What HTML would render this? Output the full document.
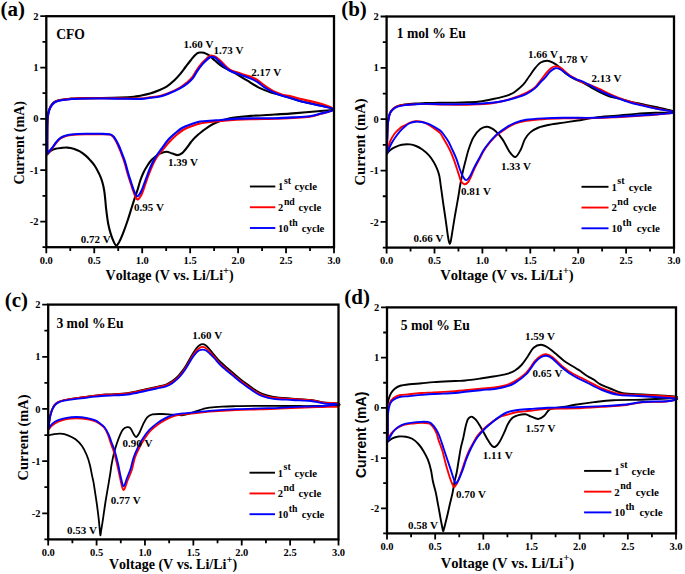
<!DOCTYPE html>
<html><head><meta charset="utf-8"><style>
html,body{margin:0;padding:0;background:#fff;}
svg{display:block;} text{font-kerning:none;}
</style></head><body>
<svg width="685" height="574" viewBox="0 0 685 574">
<rect width="685" height="574" fill="#fff"/>
<path d="M47.2 154.5 C47.78 153.92 49.32 151.95 50.7 151 C52.08 150.05 53.65 149.32 55.5 148.8 C57.35 148.28 59.83 148.1 61.8 147.9 C63.77 147.7 65.33 147.47 67.3 147.6 C69.27 147.73 71.5 148.07 73.6 148.7 C75.7 149.33 77.93 150.28 79.9 151.4 C81.87 152.52 83.7 153.95 85.4 155.4 C87.1 156.85 88.52 158.33 90.1 160.1 C91.68 161.87 93.45 163.83 94.9 166 C96.35 168.17 97.73 170.97 98.8 173.1 C99.87 175.23 100.58 176.83 101.3 178.8 C102.02 180.77 102.58 182.73 103.1 184.9 C103.62 187.07 104.03 189.28 104.4 191.8 C104.77 194.32 105 197.07 105.3 200 C105.6 202.93 105.72 205.43 106.2 209.4 C106.68 213.37 107.47 219.8 108.2 223.8 C108.93 227.8 109.73 230.53 110.6 233.4 C111.47 236.27 112.45 238.98 113.4 241 C114.35 243.02 115.33 245.33 116.3 245.5 C117.27 245.67 118.08 244.02 119.2 242 C120.32 239.98 121.57 237.07 123 233.4 C124.43 229.73 126.35 224.32 127.8 220 C129.25 215.68 130.58 211.03 131.7 207.5 C132.82 203.97 133.53 201.72 134.5 198.8 C135.47 195.88 136.53 193.05 137.5 190 C138.47 186.95 139.3 183.42 140.3 180.5 C141.3 177.58 142.33 174.97 143.5 172.5 C144.67 170.03 145.97 167.78 147.3 165.7 C148.63 163.62 150.05 161.6 151.5 160 C152.95 158.4 154.58 157.18 156 156.1 C157.42 155.02 158.27 154.22 160 153.5 C161.73 152.78 164.32 151.78 166.4 151.8 C168.48 151.82 170.6 153.05 172.5 153.6 C174.4 154.15 176.2 155.18 177.8 155.1 C179.4 155.02 180.5 154.45 182.1 153.1 C183.7 151.75 185.92 148.85 187.4 147 C188.88 145.15 189.73 143.58 191 142 C192.27 140.42 193.17 139.25 195 137.5 C196.83 135.75 198.98 133.75 202 131.5 C205.02 129.25 208.47 126.22 213.1 124 C217.73 121.78 223.53 119.55 229.8 118.2 C236.07 116.85 243.17 116.52 250.7 115.9 C258.23 115.28 267.97 114.92 275 114.5 C282.03 114.08 285.28 113.98 292.9 113.4 C300.52 112.82 313.85 111.65 320.7 111 C327.55 110.35 334 110.42 334 109.5 C334 108.58 326.4 106.93 320.7 105.5 C315 104.07 306.05 102.52 299.8 100.9 C293.55 99.28 288 97.22 283.2 95.8 C278.4 94.38 275.07 93.77 271 92.4 C266.93 91.03 262.87 89.63 258.8 87.6 C254.73 85.57 250.67 82.65 246.6 80.2 C242.53 77.75 237.9 74.88 234.4 72.9 C230.9 70.92 228 69.65 225.6 68.3 C223.2 66.95 221.78 66.1 220 64.8 C218.22 63.5 216.77 62.1 214.9 60.5 C213.03 58.9 210.65 56.48 208.8 55.2 C206.95 53.92 205.18 53.25 203.8 52.8 C202.42 52.35 201.57 52.45 200.5 52.5 C199.43 52.55 198.52 52.43 197.4 53.1 C196.28 53.77 194.95 55.27 193.8 56.5 C192.65 57.73 191.88 58.75 190.5 60.5 C189.12 62.25 187.2 64.78 185.5 67 C183.8 69.22 182.15 71.58 180.3 73.8 C178.45 76.02 176.62 78.22 174.4 80.3 C172.18 82.38 169.57 84.63 167 86.3 C164.43 87.97 161.83 89.08 159 90.3 C156.17 91.52 153.17 92.68 150 93.6 C146.83 94.52 142.68 95.27 140 95.8 C137.32 96.33 137.23 96.5 133.9 96.8 C130.57 97.1 125.65 97.4 120 97.6 C114.35 97.8 106.83 97.9 100 98 C93.17 98.1 83.95 98.08 79 98.2 C74.05 98.32 73.22 98.43 70.3 98.7 C67.38 98.97 63.98 99.33 61.5 99.8 C59.02 100.27 57 100.72 55.4 101.5 C53.8 102.28 52.92 103.17 51.9 104.5 C50.88 105.83 49.98 107.33 49.3 109.5 C48.62 111.67 48.13 114.08 47.8 117.5 C47.47 120.92 47.4 123.83 47.3 130 C47.2 136.17 47.22 150.42 47.2 154.5" stroke="#000" stroke-width="2.1" fill="none" stroke-linejoin="round" stroke-linecap="round"/>
<path d="M47.2 153.8 C47.98 152.93 50.4 150.43 51.9 148.6 C53.4 146.77 54.77 144.48 56.2 142.8 C57.63 141.12 58.98 139.6 60.5 138.5 C62.02 137.4 63.48 136.78 65.3 136.2 C67.12 135.62 69.37 135.28 71.4 135 C73.43 134.72 75.1 134.63 77.5 134.5 C79.9 134.37 82.05 134.25 85.8 134.2 C89.55 134.15 96.05 134.15 100 134.2 C103.95 134.25 107.3 134.07 109.5 134.5 C111.7 134.93 112.1 135.67 113.2 136.8 C114.3 137.93 115.22 139.68 116.1 141.3 C116.98 142.92 117.75 144.8 118.5 146.5 C119.25 148.2 119.62 148.92 120.6 151.5 C121.58 154.08 123.2 158.22 124.4 162 C125.6 165.78 126.73 170.62 127.8 174.2 C128.87 177.78 129.87 180.62 130.8 183.5 C131.73 186.38 132.6 189.25 133.4 191.5 C134.2 193.75 134.9 195.65 135.6 197 C136.3 198.35 136.95 199.43 137.6 199.6 C138.25 199.77 138.73 199.1 139.5 198 C140.27 196.9 141.25 195.25 142.2 193 C143.15 190.75 144.23 187.25 145.2 184.5 C146.17 181.75 147.02 179.17 148 176.5 C148.98 173.83 149.97 171.15 151.1 168.5 C152.23 165.85 153.55 162.9 154.8 160.6 C156.05 158.3 157.32 156.47 158.6 154.7 C159.88 152.93 160.77 152.07 162.5 150 C164.23 147.93 166.63 144.83 169 142.3 C171.37 139.77 174.37 136.85 176.7 134.8 C179.03 132.75 180.67 131.38 183 130 C185.33 128.62 187.87 127.58 190.7 126.5 C193.53 125.42 195.8 124.33 200 123.5 C204.2 122.67 209.77 122.12 215.9 121.5 C222.03 120.88 230.28 120.18 236.8 119.8 C243.32 119.42 248.63 119.37 255 119.2 C261.37 119.03 268.68 119 275 118.8 C281.32 118.6 287.13 118.33 292.9 118 C298.67 117.67 304.97 117.5 309.6 116.8 C314.23 116.1 316.63 115.02 320.7 113.8 C324.77 112.58 334 111.18 334 109.5 C334 107.82 326.4 105.48 320.7 103.7 C315 101.92 304.92 100.07 299.8 98.8 C294.68 97.53 292.77 96.75 290 96.1 C287.23 95.45 285.77 95.62 283.2 94.9 C280.63 94.18 277.65 93.33 274.6 91.8 C271.55 90.27 267.73 87.63 264.9 85.7 C262.07 83.77 260.05 81.72 257.6 80.2 C255.15 78.68 253.05 77.72 250.2 76.6 C247.35 75.48 243.95 74.72 240.5 73.5 C237.05 72.28 232.55 71.13 229.5 69.3 C226.45 67.47 224.45 64.52 222.2 62.5 C219.95 60.48 217.67 58.33 216 57.2 C214.33 56.07 213.28 55.87 212.2 55.7 C211.12 55.53 210.5 55.65 209.5 56.2 C208.5 56.75 207.47 57.82 206.2 59 C204.93 60.18 203.5 61.42 201.9 63.3 C200.3 65.18 198.2 67.98 196.6 70.3 C195 72.62 193.9 75.17 192.3 77.2 C190.7 79.23 189.05 80.77 187 82.5 C184.95 84.23 183.12 85.8 180 87.6 C176.88 89.4 171.63 91.9 168.3 93.3 C164.97 94.7 163.05 95.32 160 96 C156.95 96.68 153.18 96.98 150 97.4 C146.82 97.82 145.9 98.33 140.9 98.5 C135.9 98.67 126.15 98.45 120 98.4 C113.85 98.35 110.83 98.2 104 98.2 C97.17 98.2 84.62 98.28 79 98.4 C73.38 98.52 73.22 98.63 70.3 98.9 C67.38 99.17 63.98 99.55 61.5 100 C59.02 100.45 57 100.83 55.4 101.6 C53.8 102.37 52.92 103.3 51.9 104.6 C50.88 105.9 50.03 107.28 49.3 109.4 C48.57 111.52 47.85 113.87 47.5 117.3 C47.15 120.73 47.25 123.92 47.2 130 C47.15 136.08 47.2 149.83 47.2 153.8" stroke="#f00" stroke-width="2.1" fill="none" stroke-linejoin="round" stroke-linecap="round"/>
<path d="M47.2 153.5 C47.98 152.62 50.4 150.1 51.9 148.2 C53.4 146.3 54.77 143.83 56.2 142.1 C57.63 140.37 58.98 138.87 60.5 137.8 C62.02 136.73 63.48 136.25 65.3 135.7 C67.12 135.15 69.37 134.78 71.4 134.5 C73.43 134.22 75.1 134.12 77.5 134 C79.9 133.88 82.05 133.83 85.8 133.8 C89.55 133.77 96.05 133.73 100 133.8 C103.95 133.87 107.25 133.75 109.5 134.2 C111.75 134.65 112.33 135.37 113.5 136.5 C114.67 137.63 115.58 139.42 116.5 141 C117.42 142.58 118.25 144.33 119 146 C119.75 147.67 120.02 148.45 121 151 C121.98 153.55 123.68 157.55 124.9 161.3 C126.12 165.05 127.28 170.05 128.3 173.5 C129.32 176.95 130.13 179.33 131 182 C131.87 184.67 132.75 187.47 133.5 189.5 C134.25 191.53 134.87 193.07 135.5 194.2 C136.13 195.33 136.67 196.25 137.3 196.3 C137.93 196.35 138.55 195.55 139.3 194.5 C140.05 193.45 140.88 192.08 141.8 190 C142.72 187.92 143.87 184.5 144.8 182 C145.73 179.5 146.45 177.5 147.4 175 C148.35 172.5 149.37 169.58 150.5 167 C151.63 164.42 152.95 161.75 154.2 159.5 C155.45 157.25 156.73 155.33 158 153.5 C159.27 151.67 160.13 150.75 161.8 148.5 C163.47 146.25 165.68 142.62 168 140 C170.32 137.38 173.37 134.8 175.7 132.8 C178.03 130.8 179.67 129.35 182 128 C184.33 126.65 186.7 125.78 189.7 124.7 C192.7 123.62 195.63 122.23 200 121.5 C204.37 120.77 209.77 120.78 215.9 120.3 C222.03 119.82 230.28 118.93 236.8 118.6 C243.32 118.27 248.63 118.37 255 118.3 C261.37 118.23 268.68 118.35 275 118.2 C281.32 118.05 287.13 117.73 292.9 117.4 C298.67 117.07 304.97 116.83 309.6 116.2 C314.23 115.57 316.63 114.72 320.7 113.6 C324.77 112.48 334 110.8 334 109.5 C334 108.2 326.4 107.23 320.7 105.8 C315 104.37 304.92 102.22 299.8 100.9 C294.68 99.58 292.77 98.7 290 97.9 C287.23 97.1 285.77 96.92 283.2 96.1 C280.63 95.28 277.65 94.42 274.6 93 C271.55 91.58 267.73 89.42 264.9 87.6 C262.07 85.78 260.05 83.63 257.6 82.1 C255.15 80.57 253.05 79.62 250.2 78.4 C247.35 77.18 243.95 76.12 240.5 74.8 C237.05 73.48 232.55 72.23 229.5 70.5 C226.45 68.77 224.45 66.43 222.2 64.4 C219.95 62.37 217.6 59.55 216 58.3 C214.4 57.05 213.52 57.12 212.6 56.9 C211.68 56.68 211.43 56.55 210.5 57 C209.57 57.45 208.3 58.45 207 59.6 C205.7 60.75 204.3 62.02 202.7 63.9 C201.1 65.78 199 68.57 197.4 70.9 C195.8 73.23 194.7 75.87 193.1 77.9 C191.5 79.93 189.98 81.37 187.8 83.1 C185.62 84.83 183.25 86.53 180 88.3 C176.75 90.07 171.63 92.33 168.3 93.7 C164.97 95.07 163.05 95.82 160 96.5 C156.95 97.18 153.18 97.4 150 97.8 C146.82 98.2 145.9 98.75 140.9 98.9 C135.9 99.05 126.15 98.77 120 98.7 C113.85 98.63 110.83 98.5 104 98.5 C97.17 98.5 84.62 98.58 79 98.7 C73.38 98.82 73.22 98.93 70.3 99.2 C67.38 99.47 63.98 99.83 61.5 100.3 C59.02 100.77 57 101.2 55.4 102 C53.8 102.8 52.92 103.78 51.9 105.1 C50.88 106.42 50.03 107.78 49.3 109.9 C48.57 112.02 47.85 114.45 47.5 117.8 C47.15 121.15 47.25 124.05 47.2 130 C47.15 135.95 47.2 149.58 47.2 153.5" stroke="#00f" stroke-width="2.1" fill="none" stroke-linejoin="round" stroke-linecap="round"/>
<rect x="46.3" y="16.2" width="287.7" height="231" fill="none" stroke="#000" stroke-width="2.3"/>
<path d="M46.3 247.2 V253.2 M70.27 247.2 V251 M94.25 247.2 V253.2 M118.22 247.2 V251 M142.2 247.2 V253.2 M166.18 247.2 V251 M190.15 247.2 V253.2 M214.12 247.2 V251 M238.1 247.2 V253.2 M262.07 247.2 V251 M286.05 247.2 V253.2 M310.02 247.2 V251 M334 247.2 V253.2 M46.3 247.2 H42.5 M46.3 221.53 H40.3 M46.3 195.87 H42.5 M46.3 170.2 H40.3 M46.3 144.53 H42.5 M46.3 118.87 H40.3 M46.3 93.2 H42.5 M46.3 67.53 H40.3 M46.3 41.87 H42.5 M46.3 16.2 H40.3" stroke="#000" stroke-width="1.8" fill="none"/>
<text x="46.3" y="263.8" font-size="10.5" text-anchor="middle" font-family='"Liberation Serif", serif' font-weight="bold" >0.0</text>
<text x="94.25" y="263.8" font-size="10.5" text-anchor="middle" font-family='"Liberation Serif", serif' font-weight="bold" >0.5</text>
<text x="142.2" y="263.8" font-size="10.5" text-anchor="middle" font-family='"Liberation Serif", serif' font-weight="bold" >1.0</text>
<text x="190.15" y="263.8" font-size="10.5" text-anchor="middle" font-family='"Liberation Serif", serif' font-weight="bold" >1.5</text>
<text x="238.1" y="263.8" font-size="10.5" text-anchor="middle" font-family='"Liberation Serif", serif' font-weight="bold" >2.0</text>
<text x="286.05" y="263.8" font-size="10.5" text-anchor="middle" font-family='"Liberation Serif", serif' font-weight="bold" >2.5</text>
<text x="334" y="263.8" font-size="10.5" text-anchor="middle" font-family='"Liberation Serif", serif' font-weight="bold" >3.0</text>
<text x="38.5" y="19.8" font-size="10.5" text-anchor="end" font-family='"Liberation Serif", serif' font-weight="bold" >2</text>
<text x="38.5" y="71.13" font-size="10.5" text-anchor="end" font-family='"Liberation Serif", serif' font-weight="bold" >1</text>
<text x="38.5" y="122.47" font-size="10.5" text-anchor="end" font-family='"Liberation Serif", serif' font-weight="bold" >0</text>
<text x="38.5" y="173.8" font-size="10.5" text-anchor="end" font-family='"Liberation Serif", serif' font-weight="bold" >-1</text>
<text x="38.5" y="225.13" font-size="10.5" text-anchor="end" font-family='"Liberation Serif", serif' font-weight="bold" >-2</text>
<text x="0" y="0" font-size="20" text-anchor="start" font-family='"Liberation Serif", serif' font-weight="bold" transform="translate(0.5 15.8) scale(1.05 1)">(a)</text>
<text x="56.2" y="39" font-size="13.6" text-anchor="start" font-family='"Liberation Serif", serif' font-weight="bold" >CFO</text>
<text x="183.6" y="47.6" font-size="11" text-anchor="start" font-family='"Liberation Serif", serif' font-weight="bold" >1.60 V</text>
<text x="213.6" y="53.7" font-size="11" text-anchor="start" font-family='"Liberation Serif", serif' font-weight="bold" >1.73 V</text>
<text x="251.3" y="75.6" font-size="11" text-anchor="start" font-family='"Liberation Serif", serif' font-weight="bold" >2.17 V</text>
<text x="167.9" y="166.3" font-size="11" text-anchor="start" font-family='"Liberation Serif", serif' font-weight="bold" >1.39 V</text>
<text x="134" y="211" font-size="11" text-anchor="start" font-family='"Liberation Serif", serif' font-weight="bold" >0.95 V</text>
<text x="80.7" y="243.4" font-size="11" text-anchor="start" font-family='"Liberation Serif", serif' font-weight="bold" >0.72 V</text>
<line x1="249.9" y1="186.5" x2="275.3" y2="186.5" stroke="#000" stroke-width="1.9"/>
<text x="278.1" y="190.4" font-size="10.5" text-anchor="start" font-family='"Liberation Serif", serif' font-weight="bold" >1</text>
<text x="283.9" y="184" font-size="9.8" text-anchor="start" font-family='"Liberation Serif", serif' font-weight="bold" >st</text>
<text x="294.5" y="190.4" font-size="10.71" text-anchor="start" font-family='"Liberation Serif", serif' font-weight="bold" >cycle</text>
<line x1="249.9" y1="207.25" x2="275.3" y2="207.25" stroke="#f00" stroke-width="1.9"/>
<text x="278.1" y="211.15" font-size="10.5" text-anchor="start" font-family='"Liberation Serif", serif' font-weight="bold" >2</text>
<text x="283.9" y="204.75" font-size="9.8" text-anchor="start" font-family='"Liberation Serif", serif' font-weight="bold" >nd</text>
<text x="298.6" y="211.15" font-size="10.71" text-anchor="start" font-family='"Liberation Serif", serif' font-weight="bold" >cycle</text>
<line x1="249.9" y1="228" x2="275.3" y2="228" stroke="#00f" stroke-width="1.9"/>
<text x="278.1" y="231.9" font-size="10.5" text-anchor="start" font-family='"Liberation Serif", serif' font-weight="bold" >10</text>
<text x="289" y="225.5" font-size="9.8" text-anchor="start" font-family='"Liberation Serif", serif' font-weight="bold" >th</text>
<text x="301.8" y="231.9" font-size="10.71" text-anchor="start" font-family='"Liberation Serif", serif' font-weight="bold" >cycle</text>
<text x="105.6" y="279.5" font-size="14" text-anchor="start" font-family='"Liberation Serif", serif' font-weight="bold" >Voltage (V vs. Li/Li<tspan font-size="10.5" dy="-6">+</tspan><tspan dy="6">)</tspan></text>
<text x="24.2" y="184.6" font-size="14" text-anchor="start" font-family='"Liberation Serif", serif' font-weight="bold" transform="rotate(-90 24.2 184.6)">Current (mA)</text>
<path d="M387 153.6 C387.55 152.98 389.05 150.95 390.3 149.9 C391.55 148.85 392.58 148.17 394.5 147.3 C396.42 146.43 399.2 145.18 401.8 144.7 C404.4 144.22 407.73 144.18 410.1 144.4 C412.47 144.62 414.02 145.18 416 146 C417.98 146.82 419.83 147.73 422 149.3 C424.17 150.87 427.03 153.23 429 155.4 C430.97 157.57 432.42 159.98 433.8 162.3 C435.18 164.62 436.37 166.97 437.3 169.3 C438.23 171.63 438.82 173.52 439.4 176.3 C439.98 179.08 440.33 182.72 440.8 186 C441.27 189.28 441.73 192.67 442.2 196 C442.67 199.33 443.12 202.67 443.6 206 C444.08 209.33 444.62 212.67 445.1 216 C445.58 219.33 446.03 222.67 446.5 226 C446.97 229.33 447.5 233.42 447.9 236 C448.3 238.58 448.58 240.17 448.9 241.5 C449.22 242.83 449.5 244 449.8 244 C450.1 244 450.42 242.67 450.7 241.5 C450.98 240.33 451.07 239.63 451.5 237 C451.93 234.37 452.68 229.5 453.3 225.7 C453.92 221.9 454.57 217.88 455.2 214.2 C455.83 210.52 456.53 206.8 457.1 203.6 C457.67 200.4 458.08 198.1 458.6 195 C459.12 191.9 459.48 188.93 460.2 185 C460.92 181.07 461.93 175.73 462.9 171.4 C463.87 167.07 465.05 162.65 466 159 C466.95 155.35 467.37 153.08 468.6 149.5 C469.83 145.92 471.43 140.9 473.4 137.5 C475.37 134.1 478.07 130.88 480.4 129.1 C482.73 127.32 484.85 126.45 487.4 126.8 C489.95 127.15 493.15 129.07 495.7 131.2 C498.25 133.33 500.33 136.08 502.7 139.6 C505.07 143.12 507.78 149.4 509.9 152.3 C512.02 155.2 513.58 157.47 515.4 157 C517.22 156.53 519.23 152.43 520.8 149.5 C522.37 146.57 523.22 142.25 524.8 139.4 C526.38 136.55 527.98 134.38 530.3 132.4 C532.62 130.42 535.45 128.78 538.7 127.5 C541.95 126.22 545.62 125.52 549.8 124.7 C553.98 123.88 559.15 123.3 563.8 122.6 C568.45 121.9 572.5 121.33 577.7 120.5 C582.9 119.67 588.57 118.4 595 117.6 C601.43 116.8 609.47 116.32 616.3 115.7 C623.13 115.08 629.43 114.38 636 113.9 C642.57 113.42 649.45 113.08 655.7 112.8 C661.95 112.52 671.52 112.73 673.5 112.2 C675.48 111.67 670.57 110.47 667.6 109.6 C664.63 108.73 659.87 107.9 655.7 107 C651.53 106.1 646.98 105.15 642.6 104.2 C638.22 103.25 633.33 102.23 629.4 101.3 C625.47 100.37 622.37 99.43 619 98.6 C615.63 97.77 612.48 97.42 609.2 96.3 C605.92 95.18 602.32 93.4 599.3 91.9 C596.28 90.4 593.83 88.83 591.1 87.3 C588.37 85.77 585.45 83.98 582.9 82.7 C580.35 81.42 577.83 80.57 575.8 79.6 C573.77 78.63 572.42 77.95 570.7 76.9 C568.98 75.85 567.55 75.07 565.5 73.3 C563.45 71.53 560.43 68.05 558.4 66.3 C556.37 64.55 555.17 63.73 553.3 62.8 C551.43 61.87 549.3 60.75 547.2 60.7 C545.1 60.65 542.75 61.22 540.7 62.5 C538.65 63.78 536.83 66.07 534.9 68.4 C532.97 70.73 531.05 73.78 529.1 76.5 C527.15 79.22 525.55 82.17 523.2 84.7 C520.85 87.23 517.25 90.05 515 91.7 C512.75 93.35 511.63 93.78 509.7 94.6 C507.77 95.42 506.18 95.87 503.4 96.6 C500.62 97.33 496.9 98.18 493 99 C489.1 99.82 484.17 100.95 480 101.5 C475.83 102.05 472.17 102.12 468 102.3 C463.83 102.48 459.67 102.55 455 102.6 C450.33 102.65 444.87 102.53 440 102.6 C435.13 102.67 429.9 102.87 425.8 103 C421.7 103.13 418.88 103.15 415.4 103.4 C411.92 103.65 407.87 104.03 404.9 104.5 C401.93 104.97 399.52 105.5 397.6 106.2 C395.68 106.9 394.62 107.65 393.4 108.7 C392.18 109.75 391.08 110.95 390.3 112.5 C389.52 114.05 389.13 115.68 388.7 118 C388.27 120.32 387.95 122.73 387.7 126.4 C387.45 130.07 387.32 135.47 387.2 140 C387.08 144.53 387.03 151.33 387 153.6" stroke="#000" stroke-width="1.9" fill="none" stroke-linejoin="round" stroke-linecap="round"/>
<path d="M387 153.6 C387.25 152.58 387.95 149.6 388.5 147.5 C389.05 145.4 389.3 143.3 390.3 141 C391.3 138.7 392.93 135.8 394.5 133.7 C396.07 131.6 397.97 129.8 399.7 128.4 C401.43 127 403.17 126.25 404.9 125.3 C406.63 124.35 408.35 123.37 410.1 122.7 C411.85 122.03 413.48 121.47 415.4 121.3 C417.32 121.13 419.52 121.2 421.6 121.7 C423.68 122.2 425.8 123.18 427.9 124.3 C430 125.42 432.18 126.95 434.2 128.4 C436.22 129.85 438.32 131.07 440 133 C441.68 134.93 442.62 137.08 444.3 140 C445.98 142.92 448.43 147.02 450.1 150.5 C451.77 153.98 452.92 157.08 454.3 160.9 C455.68 164.72 457.27 170.02 458.4 173.4 C459.53 176.78 460.08 179.4 461.1 181.2 C462.12 183 463.32 184.07 464.5 184.2 C465.68 184.33 467.15 183.2 468.2 182 C469.25 180.8 469.73 179.28 470.8 177 C471.87 174.72 473.1 171.42 474.6 168.3 C476.1 165.18 478 161.65 479.8 158.3 C481.6 154.95 482.75 151.92 485.4 148.2 C488.05 144.48 492.12 139.37 495.7 136 C499.28 132.63 503.68 130.08 506.9 128 C510.12 125.92 511.8 124.7 515 123.5 C518.2 122.3 521.45 121.52 526.1 120.8 C530.75 120.08 536.62 119.6 542.9 119.2 C549.18 118.8 555.12 118.58 563.8 118.4 C572.48 118.22 586.25 118.3 595 118.1 C603.75 117.9 608.37 117.62 616.3 117.2 C624.23 116.78 634.93 116.13 642.6 115.6 C650.27 115.07 657.15 114.57 662.3 114 C667.45 113.43 674.6 113.15 673.5 112.2 C672.4 111.25 660.85 109.47 655.7 108.3 C650.55 107.13 646.98 106.33 642.6 105.2 C638.22 104.07 633.78 102.9 629.4 101.5 C625.02 100.1 619.97 98.23 616.3 96.8 C612.63 95.37 610.23 94.23 607.4 92.9 C604.57 91.57 602.02 90.07 599.3 88.8 C596.58 87.53 593.83 86.35 591.1 85.3 C588.37 84.25 585.45 83.58 582.9 82.5 C580.35 81.42 577.83 79.88 575.8 78.8 C573.77 77.72 572.42 77.13 570.7 76 C568.98 74.87 567.03 73.28 565.5 72 C563.97 70.72 562.75 69.2 561.5 68.3 C560.25 67.4 559.03 66.92 558 66.6 C556.97 66.28 556.43 66.18 555.3 66.4 C554.17 66.62 552.65 66.87 551.2 67.9 C549.75 68.93 548.35 70.53 546.6 72.6 C544.85 74.67 542.65 77.82 540.7 80.3 C538.75 82.78 537.23 85.47 534.9 87.5 C532.57 89.53 530.02 90.87 526.7 92.5 C523.38 94.13 518.88 95.88 515 97.3 C511.12 98.72 507.28 100 503.4 101 C499.52 102 495.6 102.77 491.7 103.3 C487.8 103.83 483.97 103.95 480 104.2 C476.03 104.45 473.9 104.75 467.9 104.8 C461.9 104.85 451.02 104.63 444 104.5 C436.98 104.37 430.57 104.05 425.8 104 C421.03 103.95 418.88 104.07 415.4 104.2 C411.92 104.33 407.87 104.47 404.9 104.8 C401.93 105.13 399.52 105.57 397.6 106.2 C395.68 106.83 394.62 107.58 393.4 108.6 C392.18 109.62 391.08 110.82 390.3 112.3 C389.52 113.78 389.13 115.22 388.7 117.5 C388.27 119.78 387.95 122.25 387.7 126 C387.45 129.75 387.32 135.4 387.2 140 C387.08 144.6 387.03 151.33 387 153.6" stroke="#f00" stroke-width="1.9" fill="none" stroke-linejoin="round" stroke-linecap="round"/>
<path d="M387 153.6 C387.33 152.75 388.25 150.18 389 148.5 C389.75 146.82 390.58 145.17 391.5 143.5 C392.42 141.83 393.13 140.48 394.5 138.5 C395.87 136.52 397.97 133.62 399.7 131.6 C401.43 129.58 403.17 127.83 404.9 126.4 C406.63 124.97 408.35 123.78 410.1 123 C411.85 122.22 413.48 121.87 415.4 121.7 C417.32 121.53 419.52 121.67 421.6 122 C423.68 122.33 425.8 122.88 427.9 123.7 C430 124.52 432.15 125.77 434.2 126.9 C436.25 128.03 438.57 129.15 440.2 130.5 C441.83 131.85 442.63 133.17 444 135 C445.37 136.83 447.03 139.1 448.4 141.5 C449.77 143.9 450.87 146.52 452.2 149.4 C453.53 152.28 455.18 155.67 456.4 158.8 C457.62 161.93 458.47 165.33 459.5 168.2 C460.53 171.07 461.48 174.02 462.6 176 C463.72 177.98 464.97 180.05 466.2 180.1 C467.43 180.15 468.68 178.35 470 176.3 C471.32 174.25 472.53 170.85 474.1 167.8 C475.67 164.75 477.58 161.3 479.4 158 C481.22 154.7 482.28 151.77 485 148 C487.72 144.23 492.05 138.88 495.7 135.4 C499.35 131.92 503.68 129.2 506.9 127.1 C510.12 125 511.8 124.02 515 122.8 C518.2 121.58 521.45 120.53 526.1 119.8 C530.75 119.07 536.62 118.73 542.9 118.4 C549.18 118.07 555.12 117.9 563.8 117.8 C572.48 117.7 586.25 117.97 595 117.8 C603.75 117.63 608.37 117.23 616.3 116.8 C624.23 116.37 634.93 115.68 642.6 115.2 C650.27 114.72 657.15 114.4 662.3 113.9 C667.45 113.4 674.6 113.08 673.5 112.2 C672.4 111.32 660.85 109.7 655.7 108.6 C650.55 107.5 646.98 106.65 642.6 105.6 C638.22 104.55 633.78 103.62 629.4 102.3 C625.02 100.98 619.97 99.05 616.3 97.7 C612.63 96.35 610.23 95.42 607.4 94.2 C604.57 92.98 602.02 91.8 599.3 90.4 C596.58 89 593.83 87.25 591.1 85.8 C588.37 84.35 585.45 82.82 582.9 81.7 C580.35 80.58 577.83 79.95 575.8 79.1 C573.77 78.25 572.42 77.62 570.7 76.6 C568.98 75.58 567.22 74.2 565.5 73 C563.78 71.8 562.1 70.2 560.4 69.4 C558.7 68.6 557 67.85 555.3 68.2 C553.6 68.55 551.9 69.93 550.2 71.5 C548.5 73.07 546.68 75.85 545.1 77.6 C543.52 79.35 542.4 80.23 540.7 82 C539 83.77 537.27 86.23 534.9 88.2 C532.53 90.17 529.82 92.17 526.5 93.8 C523.18 95.43 518.85 96.8 515 98 C511.15 99.2 507.28 100.2 503.4 101 C499.52 101.8 495.6 102.37 491.7 102.8 C487.8 103.23 483.97 103.38 480 103.6 C476.03 103.82 473.9 104 467.9 104.1 C461.9 104.2 451.02 104.23 444 104.2 C436.98 104.17 430.57 103.9 425.8 103.9 C421.03 103.9 418.88 104 415.4 104.2 C411.92 104.4 407.87 104.68 404.9 105.1 C401.93 105.52 399.52 106.03 397.6 106.7 C395.68 107.37 394.62 108.08 393.4 109.1 C392.18 110.12 391.08 111.32 390.3 112.8 C389.52 114.28 389.13 115.73 388.7 118 C388.27 120.27 387.95 122.73 387.7 126.4 C387.45 130.07 387.32 135.47 387.2 140 C387.08 144.53 387.03 151.33 387 153.6" stroke="#00f" stroke-width="1.9" fill="none" stroke-linejoin="round" stroke-linecap="round"/>
<rect x="386.6" y="16.5" width="287.4" height="231.1" fill="none" stroke="#000" stroke-width="2.3"/>
<path d="M386.6 247.6 V253.6 M410.55 247.6 V251.4 M434.5 247.6 V253.6 M458.45 247.6 V251.4 M482.4 247.6 V253.6 M506.35 247.6 V251.4 M530.3 247.6 V253.6 M554.25 247.6 V251.4 M578.2 247.6 V253.6 M602.15 247.6 V251.4 M626.1 247.6 V253.6 M650.05 247.6 V251.4 M674 247.6 V253.6 M386.6 247.6 H382.8 M386.6 221.92 H380.6 M386.6 196.24 H382.8 M386.6 170.57 H380.6 M386.6 144.89 H382.8 M386.6 119.21 H380.6 M386.6 93.53 H382.8 M386.6 67.86 H380.6 M386.6 42.18 H382.8 M386.6 16.5 H380.6" stroke="#000" stroke-width="1.8" fill="none"/>
<text x="386.6" y="264.2" font-size="10.5" text-anchor="middle" font-family='"Liberation Serif", serif' font-weight="bold" >0.0</text>
<text x="434.5" y="264.2" font-size="10.5" text-anchor="middle" font-family='"Liberation Serif", serif' font-weight="bold" >0.5</text>
<text x="482.4" y="264.2" font-size="10.5" text-anchor="middle" font-family='"Liberation Serif", serif' font-weight="bold" >1.0</text>
<text x="530.3" y="264.2" font-size="10.5" text-anchor="middle" font-family='"Liberation Serif", serif' font-weight="bold" >1.5</text>
<text x="578.2" y="264.2" font-size="10.5" text-anchor="middle" font-family='"Liberation Serif", serif' font-weight="bold" >2.0</text>
<text x="626.1" y="264.2" font-size="10.5" text-anchor="middle" font-family='"Liberation Serif", serif' font-weight="bold" >2.5</text>
<text x="674" y="264.2" font-size="10.5" text-anchor="middle" font-family='"Liberation Serif", serif' font-weight="bold" >3.0</text>
<text x="378.8" y="20.1" font-size="10.5" text-anchor="end" font-family='"Liberation Serif", serif' font-weight="bold" >2</text>
<text x="378.8" y="71.46" font-size="10.5" text-anchor="end" font-family='"Liberation Serif", serif' font-weight="bold" >1</text>
<text x="378.8" y="122.81" font-size="10.5" text-anchor="end" font-family='"Liberation Serif", serif' font-weight="bold" >0</text>
<text x="378.8" y="174.17" font-size="10.5" text-anchor="end" font-family='"Liberation Serif", serif' font-weight="bold" >-1</text>
<text x="378.8" y="225.52" font-size="10.5" text-anchor="end" font-family='"Liberation Serif", serif' font-weight="bold" >-2</text>
<text x="0" y="0" font-size="20" text-anchor="start" font-family='"Liberation Serif", serif' font-weight="bold" transform="translate(341.2 16) scale(1.05 1)">(b)</text>
<text x="396.8" y="37.5" font-size="13.6" text-anchor="start" font-family='"Liberation Serif", serif' font-weight="bold" >1 mol % Eu</text>
<text x="528" y="57.8" font-size="11" text-anchor="start" font-family='"Liberation Serif", serif' font-weight="bold" >1.66 V</text>
<text x="558" y="63.4" font-size="11" text-anchor="start" font-family='"Liberation Serif", serif' font-weight="bold" >1.78 V</text>
<text x="591.5" y="82.2" font-size="11" text-anchor="start" font-family='"Liberation Serif", serif' font-weight="bold" >2.13 V</text>
<text x="501.1" y="169.8" font-size="11" text-anchor="start" font-family='"Liberation Serif", serif' font-weight="bold" >1.33 V</text>
<text x="461.1" y="195.2" font-size="11" text-anchor="start" font-family='"Liberation Serif", serif' font-weight="bold" >0.81 V</text>
<text x="413.5" y="242" font-size="11" text-anchor="start" font-family='"Liberation Serif", serif' font-weight="bold" >0.66 V</text>
<line x1="581.5" y1="186.8" x2="608.5" y2="186.8" stroke="#000" stroke-width="1.9"/>
<text x="611.38" y="190.7" font-size="10.81" text-anchor="start" font-family='"Liberation Serif", serif' font-weight="bold" >1</text>
<text x="617.36" y="184.11" font-size="10.09" text-anchor="start" font-family='"Liberation Serif", serif' font-weight="bold" >st</text>
<text x="628.7" y="190.7" font-size="11.03" text-anchor="start" font-family='"Liberation Serif", serif' font-weight="bold" >cycle</text>
<line x1="581.5" y1="207.55" x2="608.5" y2="207.55" stroke="#f00" stroke-width="1.9"/>
<text x="611.38" y="211.45" font-size="10.81" text-anchor="start" font-family='"Liberation Serif", serif' font-weight="bold" >2</text>
<text x="617.36" y="204.86" font-size="10.09" text-anchor="start" font-family='"Liberation Serif", serif' font-weight="bold" >nd</text>
<text x="633.1" y="211.45" font-size="11.03" text-anchor="start" font-family='"Liberation Serif", serif' font-weight="bold" >cycle</text>
<line x1="581.5" y1="228.3" x2="608.5" y2="228.3" stroke="#00f" stroke-width="1.9"/>
<text x="611.38" y="232.2" font-size="10.81" text-anchor="start" font-family='"Liberation Serif", serif' font-weight="bold" >10</text>
<text x="622.61" y="225.61" font-size="10.09" text-anchor="start" font-family='"Liberation Serif", serif' font-weight="bold" >th</text>
<text x="636.7" y="232.2" font-size="11.03" text-anchor="start" font-family='"Liberation Serif", serif' font-weight="bold" >cycle</text>
<text x="440.2" y="280" font-size="14.6" text-anchor="start" font-family='"Liberation Serif", serif' font-weight="bold" >Voltage (V vs. Li/Li<tspan font-size="10.9" dy="-6.2">+</tspan><tspan dy="6.2">)</tspan></text>
<text x="365" y="185.5" font-size="14.6" text-anchor="start" font-family='"Liberation Serif", serif' font-weight="bold" transform="rotate(-90 365 185.5)">Current (mA)</text>
<path d="M48.3 435.5 C49.13 435.3 51.25 434.6 53.3 434.3 C55.35 434 58.15 433.53 60.6 433.7 C63.05 433.87 65.52 434.37 68 435.3 C70.48 436.23 73.17 437.52 75.5 439.3 C77.83 441.08 80.13 443.38 82 446 C83.87 448.62 85.38 451.85 86.7 455 C88.02 458.15 89.02 461.5 89.9 464.9 C90.78 468.3 91.4 472.52 92 475.4 C92.6 478.28 92.93 479.03 93.5 482.2 C94.07 485.37 94.78 490.33 95.4 494.4 C96.02 498.47 96.65 502.53 97.2 506.6 C97.75 510.67 98.3 515.23 98.7 518.8 C99.1 522.37 99.33 525.25 99.6 528 C99.87 530.75 100.03 534.97 100.3 535.3 C100.57 535.63 100.9 531.73 101.2 530 C101.5 528.27 101.65 527.78 102.1 524.9 C102.55 522.02 103.3 516.77 103.9 512.7 C104.5 508.63 104.98 504.97 105.7 500.5 C106.42 496.03 107.4 490.65 108.2 485.9 C109 481.15 109.95 475.48 110.5 472 C111.05 468.52 110.93 468.1 111.5 465 C112.07 461.9 112.98 457.07 113.9 453.4 C114.82 449.73 115.95 446.13 117 443 C118.05 439.87 119.18 436.88 120.2 434.6 C121.22 432.32 121.92 430.53 123.1 429.3 C124.28 428.07 126.07 427.37 127.3 427.2 C128.53 427.03 129.45 427.17 130.5 428.3 C131.55 429.43 132.65 432.55 133.6 434 C134.55 435.45 135.25 437.17 136.2 437 C137.15 436.83 138.17 435.07 139.3 433 C140.43 430.93 141.68 427.22 143 424.6 C144.32 421.98 145.63 419 147.2 417.3 C148.77 415.6 149.97 414.95 152.4 414.4 C154.83 413.85 158.48 413.97 161.8 414 C165.12 414.03 168.75 414.4 172.3 414.6 C175.85 414.8 180.15 415.38 183.1 415.2 C186.05 415.02 187.8 414.17 190 413.5 C192.2 412.83 194.13 411.95 196.3 411.2 C198.47 410.45 200.82 409.6 203 409 C205.18 408.4 206.23 408 209.4 407.6 C212.57 407.2 217.62 406.83 222 406.6 C226.38 406.37 229.37 406.33 235.7 406.2 C242.03 406.07 250.58 405.83 260 405.8 C269.42 405.77 282.7 405.97 292.2 406 C301.7 406.03 309.45 406.1 317 406 C324.55 405.9 334.08 405.85 337.5 405.4 C340.92 404.95 339.88 403.79 337.5 403.28 C335.12 402.76 327.65 402.89 323.2 402.33 C318.75 401.77 315.97 400.54 310.8 399.91 C305.63 399.28 298.4 399.08 292.2 398.57 C286 398.05 278.57 397.61 273.6 396.81 C268.63 396.01 265.5 394.94 262.4 393.77 C259.3 392.61 257.15 391.12 255 389.81 C252.85 388.51 251.83 387.61 249.5 385.92 C247.17 384.23 243.63 381.75 241 379.68 C238.37 377.6 236.15 375.53 233.7 373.45 C231.25 371.38 228.55 369.18 226.3 367.23 C224.05 365.27 222.23 363.79 220.2 361.72 C218.17 359.65 215.97 357.02 214.1 354.82 C212.23 352.62 210.42 350.13 209 348.53 C207.58 346.94 206.67 345.98 205.6 345.25 C204.53 344.51 203.62 344.1 202.6 344.1 C201.58 344.1 200.57 344.51 199.5 345.24 C198.43 345.97 197.42 346.9 196.2 348.48 C194.98 350.06 193.82 352.06 192.2 354.75 C190.58 357.44 188.13 361.93 186.5 364.61 C184.87 367.3 183.85 368.9 182.4 370.85 C180.95 372.8 179.55 374.57 177.8 376.31 C176.05 378.05 173.85 379.94 171.9 381.3 C169.95 382.67 168.63 383.58 166.1 384.5 C163.57 385.41 160.22 385.97 156.7 386.78 C153.18 387.6 149.87 388.35 145 389.39 C140.13 390.44 133.33 392.23 127.5 393.05 C121.67 393.87 114.43 394.02 110 394.31 C105.57 394.6 104.45 394.45 100.9 394.79 C97.35 395.14 92.77 395.83 88.7 396.37 C84.63 396.91 80.57 397.44 76.5 398.05 C72.43 398.66 67.35 399.38 64.3 400.04 C61.25 400.69 59.83 401.17 58.2 402 C56.57 402.83 55.62 403.48 54.5 405 C53.38 406.52 52.3 408.87 51.5 411.1 C50.7 413.33 50.2 415.55 49.7 418.4 C49.2 421.25 48.7 426.57 48.5 428.2" stroke="#000" stroke-width="1.8" fill="none" stroke-linejoin="round" stroke-linecap="round"/>
<path d="M48.3 430 C48.93 429.25 50.45 426.87 52.1 425.5 C53.75 424.13 55.77 422.88 58.2 421.8 C60.63 420.72 63.65 419.57 66.7 419 C69.75 418.43 73.25 418.4 76.5 418.4 C79.75 418.4 83.15 418.53 86.2 419 C89.25 419.47 92.62 420.43 94.8 421.2 C96.98 421.97 97.68 422.47 99.3 423.6 C100.92 424.73 103.05 426.1 104.5 428 C105.95 429.9 106.95 432.42 108 435 C109.05 437.58 109.82 440.67 110.8 443.5 C111.78 446.33 112.85 448.5 113.9 452 C114.95 455.5 116.18 460.67 117.1 464.5 C118.02 468.33 118.77 472.08 119.4 475 C120.03 477.92 120.43 479.92 120.9 482 C121.37 484.08 121.78 486.17 122.2 487.5 C122.62 488.83 122.98 489.83 123.4 490 C123.82 490.17 124.23 489.42 124.7 488.5 C125.17 487.58 125.65 486 126.2 484.5 C126.75 483 127.07 481.92 128 479.5 C128.93 477.08 130.63 473.67 131.8 470 C132.97 466.33 133.77 461.17 135 457.5 C136.23 453.83 137.62 451.12 139.2 448 C140.78 444.88 142.57 441.72 144.5 438.8 C146.43 435.88 148.55 432.88 150.8 430.5 C153.05 428.12 155.42 426.35 158 424.5 C160.58 422.65 163.37 420.88 166.3 419.4 C169.23 417.92 172.8 416.45 175.6 415.6 C178.4 414.75 179.65 414.73 183.1 414.3 C186.55 413.87 191.92 413.45 196.3 413 C200.68 412.55 202.83 412.1 209.4 411.6 C215.97 411.1 227.27 410.37 235.7 410 C244.13 409.63 252.65 409.63 260 409.4 C267.35 409.17 272.37 408.92 279.8 408.6 C287.23 408.28 297.37 407.77 304.6 407.5 C311.83 407.23 317.72 407.15 323.2 407 C328.68 406.85 335.12 407.19 337.5 406.6 C339.88 406.01 339.88 404.15 337.5 403.48 C335.12 402.8 327.65 403.09 323.2 402.53 C318.75 401.97 315.97 400.7 310.8 400.11 C305.63 399.52 298.4 399.38 292.2 398.98 C286 398.59 278.57 398.4 273.6 397.74 C268.63 397.08 265.5 396.1 262.4 395.01 C259.3 393.92 257.15 392.47 255 391.19 C252.85 389.92 251.83 389.04 249.5 387.38 C247.17 385.73 243.63 383.3 241 381.26 C238.37 379.22 236.15 377.18 233.7 375.14 C231.25 373.1 228.55 370.95 226.3 369.03 C224.05 367.1 222.23 365.67 220.2 363.61 C218.17 361.56 215.97 358.81 214.1 356.7 C212.23 354.58 210.42 352.37 209 350.91 C207.58 349.46 206.67 348.61 205.6 347.94 C204.53 347.28 203.62 346.9 202.6 346.9 C201.58 346.9 200.57 347.28 199.5 347.94 C198.43 348.61 197.42 349.46 196.2 350.89 C194.98 352.33 193.82 353.98 192.2 356.55 C190.58 359.12 188.13 363.68 186.5 366.31 C184.87 368.94 183.85 370.45 182.4 372.32 C180.95 374.19 179.55 375.87 177.8 377.53 C176.05 379.18 173.85 380.97 171.9 382.24 C169.95 383.51 168.63 384.3 166.1 385.15 C163.57 386.01 160.22 386.58 156.7 387.37 C153.18 388.17 149.87 388.89 145 389.9 C140.13 390.91 133.33 392.66 127.5 393.44 C121.67 394.22 114.43 394.32 110 394.58 C105.57 394.84 104.45 394.67 100.9 395 C97.35 395.33 92.77 396.01 88.7 396.54 C84.63 397.07 80.57 397.59 76.5 398.19 C72.43 398.79 67.35 399.5 64.3 400.15 C61.25 400.8 59.83 401.27 58.2 402.1 C56.57 402.93 55.62 403.58 54.5 405.1 C53.38 406.62 52.3 408.97 51.5 411.2 C50.7 413.43 50.2 415.65 49.7 418.5 C49.2 421.35 48.7 426.67 48.5 428.3" stroke="#f00" stroke-width="1.8" fill="none" stroke-linejoin="round" stroke-linecap="round"/>
<path d="M48.5 428.8 C49.1 427.98 50.48 425.33 52.1 423.9 C53.72 422.47 55.77 421.22 58.2 420.2 C60.63 419.18 63.65 418.33 66.7 417.8 C69.75 417.27 73.25 417 76.5 417 C79.75 417 83.15 417.27 86.2 417.8 C89.25 418.33 92.62 419.37 94.8 420.2 C96.98 421.03 97.68 421.62 99.3 422.8 C100.92 423.98 102.93 425.33 104.5 427.3 C106.07 429.27 107.48 431.98 108.7 434.6 C109.92 437.22 110.77 440.2 111.8 443 C112.83 445.8 113.85 447.92 114.9 451.4 C115.95 454.88 117.22 460.07 118.1 463.9 C118.98 467.73 119.62 471.63 120.2 474.4 C120.78 477.17 121.2 478.8 121.6 480.5 C122 482.2 122.27 483.62 122.6 484.6 C122.93 485.58 123.27 486.33 123.6 486.4 C123.93 486.47 124.23 485.82 124.6 485 C124.97 484.18 125.33 482.83 125.8 481.5 C126.27 480.17 126.62 479.08 127.4 477 C128.18 474.92 129.47 472.25 130.5 469 C131.53 465.75 132.38 461.07 133.6 457.5 C134.82 453.93 136.23 450.82 137.8 447.6 C139.37 444.38 141.08 441.15 143 438.2 C144.92 435.25 147.03 432.33 149.3 429.9 C151.57 427.47 154 425.52 156.6 423.6 C159.2 421.68 161.93 419.88 164.9 418.4 C167.87 416.92 171.37 415.53 174.4 414.7 C177.43 413.87 179.45 413.83 183.1 413.4 C186.75 412.97 191.92 412.53 196.3 412.1 C200.68 411.67 202.83 411.28 209.4 410.8 C215.97 410.32 227.27 409.6 235.7 409.2 C244.13 408.8 252.65 408.63 260 408.4 C267.35 408.17 272.37 408.1 279.8 407.8 C287.23 407.5 297.37 406.9 304.6 406.6 C311.83 406.3 317.72 406.32 323.2 406 C328.68 405.68 335.12 405.02 337.5 404.7 C339.88 404.38 339.88 404.33 337.5 404.1 C335.12 403.87 327.65 403.82 323.2 403.3 C318.75 402.78 315.97 401.55 310.8 401 C305.63 400.45 298.4 400.37 292.2 400 C286 399.63 278.57 399.45 273.6 398.8 C268.63 398.15 265.5 397.18 262.4 396.1 C259.3 395.02 257.15 393.57 255 392.3 C252.85 391.03 251.83 390.15 249.5 388.5 C247.17 386.85 243.63 384.43 241 382.4 C238.37 380.37 236.15 378.33 233.7 376.3 C231.25 374.27 228.55 372.12 226.3 370.2 C224.05 368.28 222.23 366.83 220.2 364.8 C218.17 362.77 215.97 360 214.1 358 C212.23 356 210.42 354.08 209 352.8 C207.58 351.52 206.67 350.82 205.6 350.3 C204.53 349.78 203.62 349.7 202.6 349.7 C201.58 349.7 200.57 349.78 199.5 350.3 C198.43 350.82 197.42 351.52 196.2 352.8 C194.98 354.08 193.82 355.55 192.2 358 C190.58 360.45 188.13 364.92 186.5 367.5 C184.87 370.08 183.85 371.63 182.4 373.5 C180.95 375.37 179.55 377.05 177.8 378.7 C176.05 380.35 173.85 382.13 171.9 383.4 C169.95 384.67 168.63 385.45 166.1 386.3 C163.57 387.15 160.22 387.72 156.7 388.5 C153.18 389.28 149.87 390 145 391 C140.13 392 133.33 393.73 127.5 394.5 C121.67 395.27 114.43 395.35 110 395.6 C105.57 395.85 104.45 395.7 100.9 396 C97.35 396.3 92.77 396.92 88.7 397.4 C84.63 397.88 80.57 398.35 76.5 398.9 C72.43 399.45 67.35 400.08 64.3 400.7 C61.25 401.32 59.83 401.78 58.2 402.6 C56.57 403.42 55.62 404.08 54.5 405.6 C53.38 407.12 52.3 409.47 51.5 411.7 C50.7 413.93 50.2 416.15 49.7 419 C49.2 421.85 48.7 427.17 48.5 428.8" stroke="#00f" stroke-width="1.8" fill="none" stroke-linejoin="round" stroke-linecap="round"/>
<rect x="48.2" y="304.6" width="290.3" height="234.8" fill="none" stroke="#000" stroke-width="2.3"/>
<path d="M48.2 539.4 V545.4 M72.39 539.4 V543.2 M96.58 539.4 V545.4 M120.78 539.4 V543.2 M144.97 539.4 V545.4 M169.16 539.4 V543.2 M193.35 539.4 V545.4 M217.54 539.4 V543.2 M241.73 539.4 V545.4 M265.93 539.4 V543.2 M290.12 539.4 V545.4 M314.31 539.4 V543.2 M338.5 539.4 V545.4 M48.2 539.4 H44.4 M48.2 513.31 H42.2 M48.2 487.22 H44.4 M48.2 461.13 H42.2 M48.2 435.04 H44.4 M48.2 408.96 H42.2 M48.2 382.87 H44.4 M48.2 356.78 H42.2 M48.2 330.69 H44.4 M48.2 304.6 H42.2" stroke="#000" stroke-width="1.8" fill="none"/>
<text x="48.2" y="556" font-size="10.5" text-anchor="middle" font-family='"Liberation Serif", serif' font-weight="bold" >0.0</text>
<text x="96.58" y="556" font-size="10.5" text-anchor="middle" font-family='"Liberation Serif", serif' font-weight="bold" >0.5</text>
<text x="144.97" y="556" font-size="10.5" text-anchor="middle" font-family='"Liberation Serif", serif' font-weight="bold" >1.0</text>
<text x="193.35" y="556" font-size="10.5" text-anchor="middle" font-family='"Liberation Serif", serif' font-weight="bold" >1.5</text>
<text x="241.73" y="556" font-size="10.5" text-anchor="middle" font-family='"Liberation Serif", serif' font-weight="bold" >2.0</text>
<text x="290.12" y="556" font-size="10.5" text-anchor="middle" font-family='"Liberation Serif", serif' font-weight="bold" >2.5</text>
<text x="338.5" y="556" font-size="10.5" text-anchor="middle" font-family='"Liberation Serif", serif' font-weight="bold" >3.0</text>
<text x="40.4" y="308.2" font-size="10.5" text-anchor="end" font-family='"Liberation Serif", serif' font-weight="bold" >2</text>
<text x="40.4" y="360.38" font-size="10.5" text-anchor="end" font-family='"Liberation Serif", serif' font-weight="bold" >1</text>
<text x="40.4" y="412.56" font-size="10.5" text-anchor="end" font-family='"Liberation Serif", serif' font-weight="bold" >0</text>
<text x="40.4" y="464.73" font-size="10.5" text-anchor="end" font-family='"Liberation Serif", serif' font-weight="bold" >-1</text>
<text x="40.4" y="516.91" font-size="10.5" text-anchor="end" font-family='"Liberation Serif", serif' font-weight="bold" >-2</text>
<text x="0" y="0" font-size="20" text-anchor="start" font-family='"Liberation Serif", serif' font-weight="bold" transform="translate(4.8 306.5) scale(1.05 1)">(c)</text>
<text x="56.4" y="327.5" font-size="13.6" text-anchor="start" font-family='"Liberation Serif", serif' font-weight="bold" >3 mol %<tspan dx="1.5">Eu</tspan></text>
<text x="192.2" y="338.7" font-size="11" text-anchor="start" font-family='"Liberation Serif", serif' font-weight="bold" >1.60 V</text>
<text x="122.6" y="447.3" font-size="11" text-anchor="start" font-family='"Liberation Serif", serif' font-weight="bold" >0.90 V</text>
<text x="110.8" y="504" font-size="11" text-anchor="start" font-family='"Liberation Serif", serif' font-weight="bold" >0.77 V</text>
<text x="66.9" y="534.2" font-size="11" text-anchor="start" font-family='"Liberation Serif", serif' font-weight="bold" >0.53 V</text>
<line x1="249.5" y1="472.7" x2="275" y2="472.7" stroke="#000" stroke-width="1.9"/>
<text x="277.8" y="476.6" font-size="10.5" text-anchor="start" font-family='"Liberation Serif", serif' font-weight="bold" >1</text>
<text x="283.6" y="470.2" font-size="9.8" text-anchor="start" font-family='"Liberation Serif", serif' font-weight="bold" >st</text>
<text x="294.5" y="476.6" font-size="10.71" text-anchor="start" font-family='"Liberation Serif", serif' font-weight="bold" >cycle</text>
<line x1="249.5" y1="493.45" x2="275" y2="493.45" stroke="#f00" stroke-width="1.9"/>
<text x="277.8" y="497.35" font-size="10.5" text-anchor="start" font-family='"Liberation Serif", serif' font-weight="bold" >2</text>
<text x="283.6" y="490.95" font-size="9.8" text-anchor="start" font-family='"Liberation Serif", serif' font-weight="bold" >nd</text>
<text x="298.6" y="497.35" font-size="10.71" text-anchor="start" font-family='"Liberation Serif", serif' font-weight="bold" >cycle</text>
<line x1="249.5" y1="514.2" x2="275" y2="514.2" stroke="#00f" stroke-width="1.9"/>
<text x="277.8" y="518.1" font-size="10.5" text-anchor="start" font-family='"Liberation Serif", serif' font-weight="bold" >10</text>
<text x="288.7" y="511.7" font-size="9.8" text-anchor="start" font-family='"Liberation Serif", serif' font-weight="bold" >th</text>
<text x="301.8" y="518.1" font-size="10.71" text-anchor="start" font-family='"Liberation Serif", serif' font-weight="bold" >cycle</text>
<text x="109" y="568.6" font-size="14" text-anchor="start" font-family='"Liberation Serif", serif' font-weight="bold" >Voltage (V vs. Li/Li<tspan font-size="10.5" dy="-6">+</tspan><tspan dy="6">)</tspan></text>
<text x="27.8" y="480.4" font-size="14.4" text-anchor="start" font-family='"Liberation Serif", serif' font-weight="bold" transform="rotate(-90 27.8 480.4)">Current (mA)</text>
<path d="M387.5 442 C388.3 441.38 390.45 439.22 392.3 438.3 C394.15 437.38 396.33 436.77 398.6 436.5 C400.87 436.23 403.63 436.32 405.9 436.7 C408.17 437.08 410.12 437.58 412.2 438.8 C414.28 440.02 416.48 441.9 418.4 444 C420.32 446.1 422.12 448.78 423.7 451.4 C425.28 454.02 426.68 456.57 427.9 459.7 C429.12 462.83 430.17 466.6 431 470.2 C431.83 473.8 432.1 477.57 432.9 481.3 C433.7 485.03 435.03 489.2 435.8 492.6 C436.57 496 436.93 498.67 437.5 501.7 C438.07 504.73 438.65 507.78 439.2 510.8 C439.75 513.82 440.33 517.27 440.8 519.8 C441.27 522.33 441.62 524.13 442 526 C442.38 527.87 442.73 530.67 443.1 531 C443.47 531.33 443.82 529.3 444.2 528 C444.58 526.7 444.83 525.5 445.4 523.2 C445.97 520.9 446.85 517.4 447.6 514.2 C448.35 511 449.07 507.6 449.9 504 C450.73 500.4 451.82 496.38 452.6 492.6 C453.38 488.82 453.92 484.65 454.6 481.3 C455.28 477.95 455.98 476.22 456.7 472.5 C457.42 468.78 458.2 463.18 458.9 459 C459.6 454.82 460.18 450.85 460.9 447.4 C461.62 443.95 462.43 441.7 463.2 438.3 C463.97 434.9 464.75 430.12 465.5 427 C466.25 423.88 466.95 421.23 467.7 419.6 C468.45 417.97 469.23 417.67 470 417.2 C470.77 416.73 471.27 416.3 472.3 416.8 C473.33 417.3 474.6 418.13 476.2 420.2 C477.8 422.27 480.02 426 481.9 429.2 C483.78 432.4 485.8 436.6 487.5 439.4 C489.2 442.2 490.77 444.8 492.1 446 C493.43 447.2 494.23 447.32 495.5 446.6 C496.77 445.88 498.23 444.07 499.7 441.7 C501.17 439.33 502.95 435.32 504.3 432.4 C505.65 429.48 506.43 426.63 507.8 424.2 C509.17 421.77 510.73 419.32 512.5 417.8 C514.27 416.28 516.25 415.68 518.4 415.1 C520.55 414.52 523.27 414.05 525.4 414.3 C527.53 414.55 529.07 415.82 531.2 416.6 C533.33 417.38 536.07 419.1 538.2 419 C540.33 418.9 542.25 417.47 544 416 C545.75 414.53 547.13 411.47 548.7 410.2 C550.27 408.93 550.67 408.98 553.4 408.4 C556.13 407.82 561.5 407.3 565.1 406.7 C568.7 406.1 570.17 405.57 575 404.8 C579.83 404.03 587.7 402.87 594.1 402.1 C600.5 401.33 605.37 400.6 613.4 400.2 C621.43 399.8 633.47 399.97 642.3 399.7 C651.13 399.43 660.87 398.87 666.4 398.6 C671.93 398.33 673.98 398.45 675.5 398.1 C677.02 397.75 678.1 396.95 675.5 396.5 C672.9 396.05 665.43 395.75 659.9 395.4 C654.37 395.05 648.45 394.75 642.3 394.4 C636.15 394.05 628.37 394.28 623 393.3 C617.63 392.32 613.93 390.02 610.1 388.5 C606.27 386.98 602.67 385.65 600 384.2 C597.33 382.75 596.17 381.13 594.1 379.8 C592.03 378.47 590.02 377.75 587.6 376.2 C585.18 374.65 581.55 371.83 579.6 370.5 C577.65 369.17 578.47 369.8 575.9 368.2 C573.33 366.6 567.6 363.33 564.2 360.9 C560.8 358.47 558.17 355.8 555.5 353.6 C552.83 351.4 550.63 349.17 548.2 347.7 C545.77 346.23 543.33 344.8 540.9 344.8 C538.47 344.8 535.8 345.75 533.6 347.7 C531.4 349.65 529.72 353.62 527.7 356.5 C525.68 359.38 523.62 362.67 521.5 365 C519.38 367.33 517.25 369.07 515 370.5 C512.75 371.93 510.5 372.78 508 373.6 C505.5 374.42 503 374.83 500 375.4 C497 375.97 493.22 376.48 490 377 C486.78 377.52 484.82 377.92 480.7 378.5 C476.58 379.08 469.58 380.08 465.3 380.5 C461.02 380.92 460.25 380.73 455 381 C449.75 381.27 439.37 381.72 433.8 382.1 C428.23 382.48 425.67 382.93 421.6 383.3 C417.53 383.67 413.07 383.85 409.4 384.3 C405.73 384.75 402.03 385.25 399.6 386 C397.17 386.75 396.22 387.63 394.8 388.8 C393.38 389.97 392.12 391.28 391.1 393 C390.08 394.72 389.27 397.1 388.7 399.1 C388.13 401.1 387.9 401.52 387.7 405 C387.5 408.48 387.53 413.83 387.5 420 C387.47 426.17 387.5 438.33 387.5 442" stroke="#000" stroke-width="1.9" fill="none" stroke-linejoin="round" stroke-linecap="round"/>
<path d="M387.7 440.5 C388.27 439.33 389.52 435.58 391.1 433.5 C392.68 431.42 395.17 429.42 397.2 428 C399.23 426.58 400.67 425.75 403.3 425 C405.93 424.25 409.95 423.85 413 423.5 C416.05 423.15 419.15 422.93 421.6 422.9 C424.05 422.87 426.22 423.07 427.7 423.3 C429.18 423.53 429.43 423.45 430.5 424.3 C431.57 425.15 433.05 426.78 434.1 428.4 C435.15 430.02 436.07 432.07 436.8 434 C437.53 435.93 437.88 438.08 438.5 440 C439.12 441.92 439.78 443.47 440.5 445.5 C441.22 447.53 441.83 448.77 442.8 452.2 C443.77 455.63 445.13 461.88 446.3 466.1 C447.47 470.32 448.8 474.52 449.8 477.5 C450.8 480.48 451.57 482.42 452.3 484 C453.03 485.58 453.6 486.83 454.2 487 C454.8 487.17 455.32 485.87 455.9 485 C456.48 484.13 456.68 484.3 457.7 481.8 C458.72 479.3 460.73 473.63 462 470 C463.27 466.37 464.1 463.25 465.3 460 C466.5 456.75 467.87 453.33 469.2 450.5 C470.53 447.67 471.93 445.45 473.3 443 C474.67 440.55 475.45 438.33 477.4 435.8 C479.35 433.27 482.4 430.22 485 427.8 C487.6 425.38 490.5 423.13 493 421.3 C495.5 419.47 497.72 417.87 500 416.8 C502.28 415.73 504.03 415.65 506.7 414.9 C509.37 414.15 512.12 412.98 516 412.3 C519.88 411.62 524.73 411.38 530 410.8 C535.27 410.22 540.1 409.2 547.6 408.8 C555.1 408.4 565.92 408.73 575 408.4 C584.08 408.07 593.57 407.37 602.1 406.8 C610.63 406.23 619.5 405.75 626.2 405 C632.9 404.25 635.6 402.88 642.3 402.3 C649 401.72 660.87 401.93 666.4 401.5 C671.93 401.07 673.98 400.4 675.5 399.7 C677.02 399 678.37 397.97 675.5 397.3 C672.63 396.63 665.18 396.1 658.3 395.7 C651.42 395.3 640.88 395.22 634.2 394.9 C627.52 394.58 623.55 394.87 618.2 393.8 C612.85 392.73 607.2 390.63 602.1 388.5 C597 386.37 592.45 383.45 587.6 381 C582.75 378.55 577.13 376.18 573 373.8 C568.87 371.42 566.2 369.47 562.8 366.7 C559.4 363.93 555.4 359.27 552.6 357.2 C549.8 355.13 547.95 354.53 546 354.3 C544.05 354.07 542.73 354.7 540.9 355.8 C539.07 356.9 537.43 358.1 535 360.9 C532.57 363.7 529.7 369.18 526.3 372.6 C522.9 376.02 517.95 379.32 514.6 381.4 C511.25 383.48 509.3 384.13 506.2 385.1 C503.1 386.07 500.25 386.6 496 387.2 C491.75 387.8 485.82 388.18 480.7 388.7 C475.58 389.22 469.58 389.88 465.3 390.3 C461.02 390.72 460.25 390.85 455 391.2 C449.75 391.55 439.37 392.1 433.8 392.4 C428.23 392.7 425.67 392.68 421.6 393 C417.53 393.32 413.07 393.93 409.4 394.3 C405.73 394.67 402.25 394.6 399.6 395.2 C396.95 395.8 395.12 396.63 393.5 397.9 C391.88 399.17 390.87 400.57 389.9 402.8 C388.93 405.03 388.07 407.6 387.7 411.3 C387.33 415 387.7 420.13 387.7 425 C387.7 429.87 387.7 437.92 387.7 440.5" stroke="#f00" stroke-width="1.9" fill="none" stroke-linejoin="round" stroke-linecap="round"/>
<path d="M387.8 440.9 C388.73 439.33 391.6 433.85 393.4 431.5 C395.2 429.15 396.52 428.1 398.6 426.8 C400.68 425.5 402.93 424.48 405.9 423.7 C408.87 422.92 412.73 422.4 416.4 422.1 C420.07 421.8 425.3 421.55 427.9 421.9 C430.5 422.25 430.62 422.95 432 424.2 C433.38 425.45 434.97 427.43 436.2 429.4 C437.43 431.37 438.15 432.78 439.4 436 C440.65 439.22 442.4 444.83 443.7 448.7 C445 452.57 446.03 455.72 447.2 459.2 C448.37 462.68 449.62 466.3 450.7 469.6 C451.78 472.9 452.88 476.67 453.7 479 C454.52 481.33 454.92 483.27 455.6 483.6 C456.28 483.93 457.2 481.85 457.8 481 C458.4 480.15 458.37 480.4 459.2 478.5 C460.03 476.6 461.63 472.77 462.8 469.6 C463.97 466.43 465.08 462.52 466.2 459.5 C467.32 456.48 468.3 454.13 469.5 451.5 C470.7 448.87 471.98 446.2 473.4 443.7 C474.82 441.2 476.02 439.07 478 436.5 C479.98 433.93 482.77 430.8 485.3 428.3 C487.83 425.8 490.75 423.48 493.2 421.5 C495.65 419.52 497.75 417.9 500 416.4 C502.25 414.9 504.03 413.53 506.7 412.5 C509.37 411.47 512.12 410.78 516 410.2 C519.88 409.62 524.73 409.4 530 409 C535.27 408.6 541.75 408.08 547.6 407.8 C553.45 407.52 560.53 407.4 565.1 407.3 C569.67 407.2 568.83 407.4 575 407.2 C581.17 407 593.57 406.55 602.1 406.1 C610.63 405.65 619.5 405.18 626.2 404.5 C632.9 403.82 635.6 402.55 642.3 402 C649 401.45 660.87 401.58 666.4 401.2 C671.93 400.82 673.98 400.13 675.5 399.7 C677.02 399.27 678.37 399 675.5 398.6 C672.63 398.2 665.18 397.78 658.3 397.3 C651.42 396.82 640.88 396.1 634.2 395.7 C627.52 395.3 623.55 395.85 618.2 394.9 C612.85 393.95 607.2 391.98 602.1 390 C597 388.02 592.45 385.42 587.6 383 C582.75 380.58 577.13 377.97 573 375.5 C568.87 373.03 566.2 371 562.8 368.2 C559.4 365.4 555.32 360.77 552.6 358.7 C549.88 356.63 548.45 356.03 546.5 355.8 C544.55 355.57 542.82 356.2 540.9 357.3 C538.98 358.4 537.43 359.58 535 362.4 C532.57 365.22 529.7 370.75 526.3 374.2 C522.9 377.65 517.95 381.05 514.6 383.1 C511.25 385.15 509.3 385.57 506.2 386.5 C503.1 387.43 500.25 388.08 496 388.7 C491.75 389.32 485.82 389.68 480.7 390.2 C475.58 390.72 469.58 391.33 465.3 391.8 C461.02 392.27 460.25 392.63 455 393 C449.75 393.37 439.37 393.68 433.8 394 C428.23 394.32 425.67 394.55 421.6 394.9 C417.53 395.25 413.07 395.75 409.4 396.1 C405.73 396.45 402.25 396.38 399.6 397 C396.95 397.62 395.1 398.63 393.5 399.8 C391.9 400.97 390.92 401.67 390 404 C389.08 406.33 388.37 410.3 388 413.8 C387.63 417.3 387.83 420.48 387.8 425 C387.77 429.52 387.8 438.25 387.8 440.9" stroke="#00f" stroke-width="1.9" fill="none" stroke-linejoin="round" stroke-linecap="round"/>
<rect x="387" y="307.4" width="289" height="226" fill="none" stroke="#000" stroke-width="2.3"/>
<path d="M387 533.4 V539.4 M411.08 533.4 V537.2 M435.17 533.4 V539.4 M459.25 533.4 V537.2 M483.33 533.4 V539.4 M507.42 533.4 V537.2 M531.5 533.4 V539.4 M555.58 533.4 V537.2 M579.67 533.4 V539.4 M603.75 533.4 V537.2 M627.83 533.4 V539.4 M651.92 533.4 V537.2 M676 533.4 V539.4 M387 533.4 H383.2 M387 508.29 H381 M387 483.18 H383.2 M387 458.07 H381 M387 432.96 H383.2 M387 407.84 H381 M387 382.73 H383.2 M387 357.62 H381 M387 332.51 H383.2 M387 307.4 H381" stroke="#000" stroke-width="1.8" fill="none"/>
<text x="387" y="550" font-size="10.5" text-anchor="middle" font-family='"Liberation Serif", serif' font-weight="bold" >0.0</text>
<text x="435.17" y="550" font-size="10.5" text-anchor="middle" font-family='"Liberation Serif", serif' font-weight="bold" >0.5</text>
<text x="483.33" y="550" font-size="10.5" text-anchor="middle" font-family='"Liberation Serif", serif' font-weight="bold" >1.0</text>
<text x="531.5" y="550" font-size="10.5" text-anchor="middle" font-family='"Liberation Serif", serif' font-weight="bold" >1.5</text>
<text x="579.67" y="550" font-size="10.5" text-anchor="middle" font-family='"Liberation Serif", serif' font-weight="bold" >2.0</text>
<text x="627.83" y="550" font-size="10.5" text-anchor="middle" font-family='"Liberation Serif", serif' font-weight="bold" >2.5</text>
<text x="676" y="550" font-size="10.5" text-anchor="middle" font-family='"Liberation Serif", serif' font-weight="bold" >3.0</text>
<text x="379.2" y="311" font-size="10.5" text-anchor="end" font-family='"Liberation Serif", serif' font-weight="bold" >2</text>
<text x="379.2" y="361.22" font-size="10.5" text-anchor="end" font-family='"Liberation Serif", serif' font-weight="bold" >1</text>
<text x="379.2" y="411.44" font-size="10.5" text-anchor="end" font-family='"Liberation Serif", serif' font-weight="bold" >0</text>
<text x="379.2" y="461.67" font-size="10.5" text-anchor="end" font-family='"Liberation Serif", serif' font-weight="bold" >-1</text>
<text x="379.2" y="511.89" font-size="10.5" text-anchor="end" font-family='"Liberation Serif", serif' font-weight="bold" >-2</text>
<text x="0" y="0" font-size="20" text-anchor="start" font-family='"Liberation Serif", serif' font-weight="bold" transform="translate(344.3 303.5) scale(1.05 1)">(d)</text>
<text x="400.8" y="330.4" font-size="13.6" text-anchor="start" font-family='"Liberation Serif", serif' font-weight="bold" >5 mol % Eu</text>
<text x="524.9" y="339.7" font-size="11" text-anchor="start" font-family='"Liberation Serif", serif' font-weight="bold" >1.59 V</text>
<text x="532.6" y="377.4" font-size="11" text-anchor="start" font-family='"Liberation Serif", serif' font-weight="bold" >0.65 V</text>
<text x="525.4" y="431.7" font-size="11" text-anchor="start" font-family='"Liberation Serif", serif' font-weight="bold" >1.57 V</text>
<text x="482.7" y="459.3" font-size="11" text-anchor="start" font-family='"Liberation Serif", serif' font-weight="bold" >1.11 V</text>
<text x="456" y="498.3" font-size="11" text-anchor="start" font-family='"Liberation Serif", serif' font-weight="bold" >0.70 V</text>
<text x="407.9" y="529.3" font-size="11" text-anchor="start" font-family='"Liberation Serif", serif' font-weight="bold" >0.58 V</text>
<line x1="584.1" y1="470.9" x2="611.4" y2="470.9" stroke="#000" stroke-width="1.9"/>
<text x="614.28" y="474.8" font-size="10.81" text-anchor="start" font-family='"Liberation Serif", serif' font-weight="bold" >1</text>
<text x="620.25" y="468.21" font-size="10.09" text-anchor="start" font-family='"Liberation Serif", serif' font-weight="bold" >st</text>
<text x="631.6" y="474.8" font-size="11.03" text-anchor="start" font-family='"Liberation Serif", serif' font-weight="bold" >cycle</text>
<line x1="584.1" y1="491.65" x2="611.4" y2="491.65" stroke="#f00" stroke-width="1.9"/>
<text x="614.28" y="495.55" font-size="10.81" text-anchor="start" font-family='"Liberation Serif", serif' font-weight="bold" >2</text>
<text x="620.25" y="488.96" font-size="10.09" text-anchor="start" font-family='"Liberation Serif", serif' font-weight="bold" >nd</text>
<text x="635.7" y="495.55" font-size="11.03" text-anchor="start" font-family='"Liberation Serif", serif' font-weight="bold" >cycle</text>
<line x1="584.1" y1="512.4" x2="611.4" y2="512.4" stroke="#00f" stroke-width="1.9"/>
<text x="614.28" y="516.3" font-size="10.81" text-anchor="start" font-family='"Liberation Serif", serif' font-weight="bold" >10</text>
<text x="625.51" y="509.71" font-size="10.09" text-anchor="start" font-family='"Liberation Serif", serif' font-weight="bold" >th</text>
<text x="639.4" y="516.3" font-size="11.03" text-anchor="start" font-family='"Liberation Serif", serif' font-weight="bold" >cycle</text>
<text x="440.7" y="567.5" font-size="14.6" text-anchor="start" font-family='"Liberation Serif", serif' font-weight="bold" >Voltage (V vs. Li/Li<tspan font-size="10.9" dy="-6.2">+</tspan><tspan dy="6.2">)</tspan></text>
<text x="365.5" y="478" font-size="14" text-anchor="start" font-family='"Liberation Sans", sans-serif' font-weight="bold" transform="rotate(-90 365.5 478)">Current (mA)</text>
</svg>
</body></html>
